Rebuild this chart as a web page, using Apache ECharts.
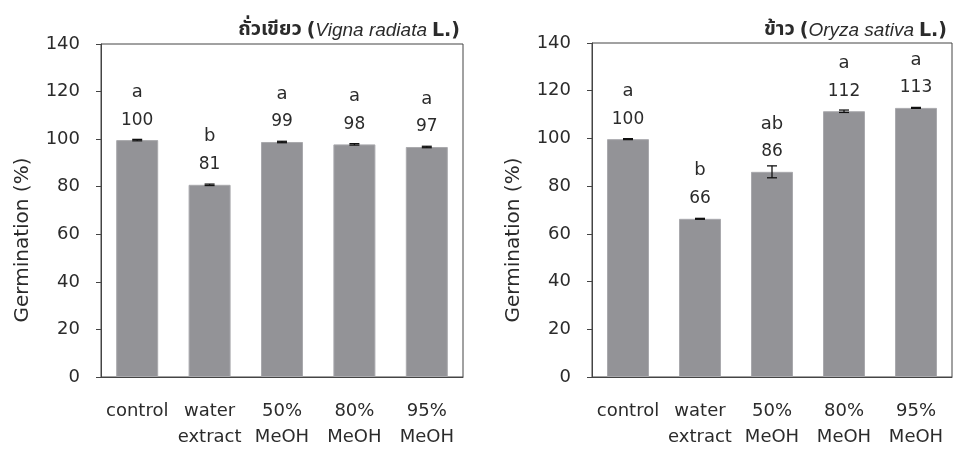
<!DOCTYPE html>
<html><head><meta charset="utf-8">
<script src="https://cdn.jsdelivr.net/npm/echarts@6/dist/echarts.min.js"></script>
<style>html,body{margin:0;padding:0;background:#fff}#c{width:954px;height:450px}</style>
</head><body><div id="c"></div>
<script>
const categories = ['control', 'water\nextract', '50%\nMeOH', '80%\nMeOH', '95%\nMeOH'];
const yTicks = [0, 20, 40, 60, 80, 100, 120, 140];
// Left panel: ถั่วเขียว (Vigna radiata L.)
const mungValues = [99.6, 80.8, 98.8, 97.8, 96.7];
const mungErrors = [0.3, 0.3, 0.3, 0.3, 0.3];
const mungLetters = ['a', 'b', 'a', 'a', 'a'];
const mungLabels = ['100', '81', '99', '98', '97'];
// Right panel: ข้าว (Oryza sativa L.)
const riceValues = [99.7, 66.3, 86.0, 111.4, 112.8];
const riceErrors = [0.2, 0.2, 2.5, 0.5, 0.2];
const riceLetters = ['a', 'b', 'ab', 'a', 'a'];
const riceLabels = ['100', '66', '86', '112', '113'];

const FONT = '"DejaVu Sans", sans-serif';
const THFONT = 'Tahoma, "Noto Sans Thai", "Noto Sans", "DejaVu Sans", sans-serif';
const TXT = '#2b2b2b';
const BAR = '#939397';

function xAx(gi) {
  return {
    type: 'category', gridIndex: gi, data: categories,
    axisLine: {show: true, lineStyle: {color: '#444', width: 1}},
    axisTick: {show: false},
    axisLabel: {fontFamily: FONT, fontSize: 18, color: TXT, margin: 21, lineHeight: 26, interval: 0}
  };
}
function yAx(gi) {
  return {
    type: 'value', gridIndex: gi, min: yTicks[0], max: yTicks[yTicks.length - 1], interval: 20,
    axisLine: {show: true, lineStyle: {color: '#444', width: 1}},
    axisTick: {show: true, inside: false, length: 5, lineStyle: {color: '#444'}},
    splitLine: {show: false},
    axisLabel: {fontFamily: FONT, fontSize: 18, color: TXT, margin: 21}
  };
}
function barSeries(gi, vals, letters, labels) {
  return {
    type: 'bar', xAxisIndex: gi, yAxisIndex: gi,
    barWidth: 42,
    itemStyle: {color: BAR, borderColor: '#a9a9ad', borderWidth: 1},
    data: vals,
    label: {
      show: true, position: 'top', distance: 6,
      formatter: p => '{l|' + letters[p.dataIndex] + '}\n{n|' + labels[p.dataIndex] + '}',
      rich: {
        l: {fontFamily: FONT, fontSize: 18, color: TXT, lineHeight: 28},
        n: {fontFamily: FONT, fontSize: 17, color: TXT, lineHeight: 28}
      }
    },
    z: 2
  };
}
function errSeries(gi, vals, errs) {
  return {
    type: 'custom', xAxisIndex: gi, yAxisIndex: gi,
    data: vals.map((v, i) => [i, v - errs[i], v + errs[i]]),
    renderItem: (params, api) => {
      const x = api.value(0);
      const lo = api.coord([x, api.value(1)]);
      const hi = api.coord([x, api.value(2)]);
      const w = 5;
      const st = {stroke: '#111', lineWidth: 1.3};
      return {type: 'group', children: [
        {type: 'line', shape: {x1: lo[0], y1: lo[1], x2: hi[0], y2: hi[1]}, style: st},
        {type: 'line', shape: {x1: lo[0] - w, y1: lo[1], x2: lo[0] + w, y2: lo[1]}, style: st},
        {type: 'line', shape: {x1: hi[0] - w, y1: hi[1], x2: hi[0] + w, y2: hi[1]}, style: st}
      ]};
    },
    z: 5
  };
}
function titleRich() {
  return {
    th: {fontFamily: THFONT, fontWeight: 'bold', fontSize: 20, color: TXT},
    p: {fontFamily: 'Tahoma, "DejaVu Sans", sans-serif', fontWeight: 'bold', fontSize: 19, color: TXT},
    it: {fontFamily: '"Liberation Sans", Arial, sans-serif', fontStyle: 'italic', fontWeight: 'normal', fontSize: 19, color: TXT}
  };
}

const chart = echarts.init(document.getElementById('c'), null, {renderer: 'canvas'});
chart.setOption({
  animation: false,
  backgroundColor: '#fff',
  title: [
    {text: '{th|ถั่วเขียว} {p|(}{it|Vigna radiata} {p|L.)}', right: 489, top: 16,
     textStyle: {rich: titleRich()}},
    {text: '{th|ข้าว} {p|(}{it|Oryza sativa} {p|L.)}', right: 2, top: 16,
     textStyle: {rich: titleRich()}}
  ],
  grid: [
    {left: 101, right: 491, top: 44, bottom: 68, show: true, borderColor: '#444', borderWidth: 1},
    {left: 592, right: 2, top: 43, bottom: 67, show: true, borderColor: '#444', borderWidth: 1}
  ],
  xAxis: [xAx(0), xAx(1)],
  yAxis: [yAx(0), yAx(1)],
  series: [
    barSeries(0, mungValues, mungLetters, mungLabels),
    errSeries(0, mungValues, mungErrors),
    barSeries(1, riceValues, riceLetters, riceLabels),
    errSeries(1, riceValues, riceErrors)
  ],
  graphic: [
    {type: 'text', x: 23, y: 240, rotation: Math.PI / 2,
     style: {text: 'Germination (%)', font: '20px "DejaVu Sans", sans-serif', fill: TXT, textAlign: 'center', textVerticalAlign: 'middle'}},
    {type: 'text', x: 514, y: 240, rotation: Math.PI / 2,
     style: {text: 'Germination (%)', font: '20px "DejaVu Sans", sans-serif', fill: TXT, textAlign: 'center', textVerticalAlign: 'middle'}}
  ]
});
</script></body></html>
